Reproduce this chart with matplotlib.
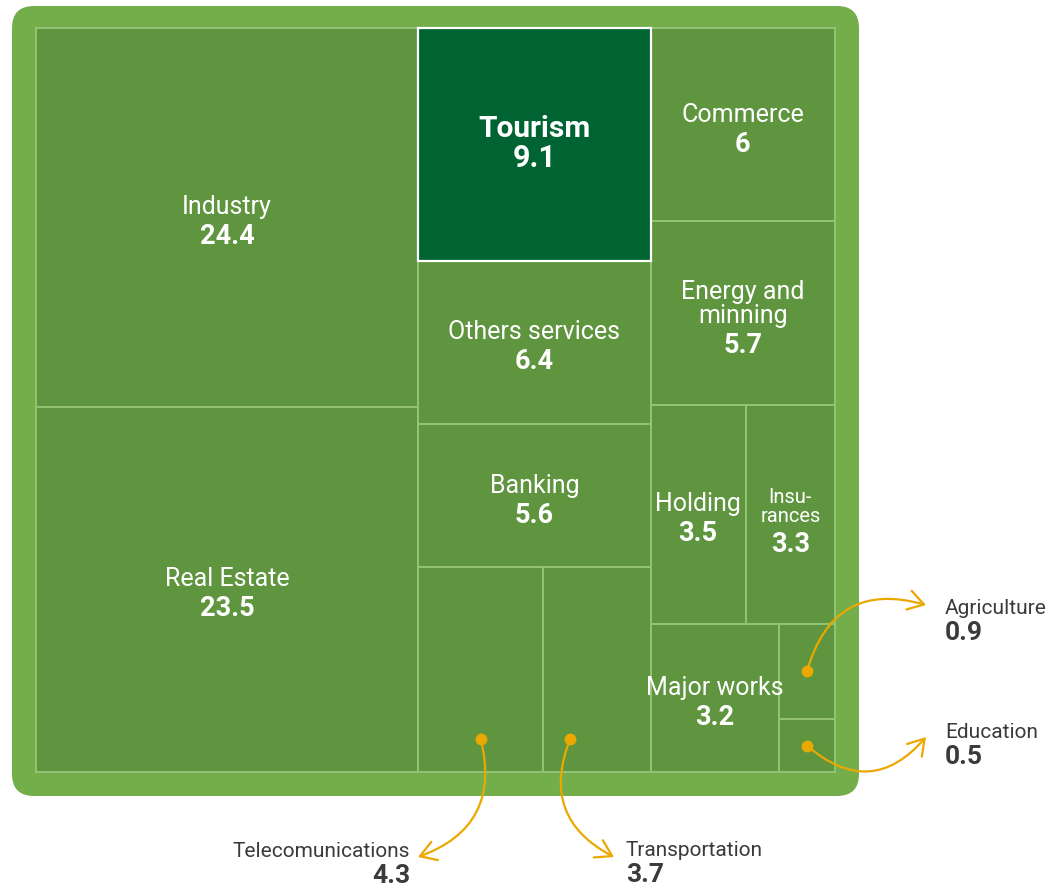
import matplotlib
matplotlib.use("Agg")
import matplotlib.pyplot as plt
from matplotlib.patches import Rectangle, FancyBboxPatch, FancyArrowPatch

# ---------------- data ----------------
sectors = ["Industry", "Real Estate", "Tourism", "Commerce", "Others services",
           "Energy and minning", "Banking", "Holding", "Insurances", "Major works",
           "Agriculture", "Education", "Telecomunications", "Transportation"]
values = [24.4, 23.5, 9.1, 6, 6.4, 5.7, 5.6, 3.5, 3.3, 3.2, 0.9, 0.5, 4.3, 3.7]
cell_labels = {"Energy and minning": "Energy and\nminning", "Insurances": "Insu-\nrances"}
highlight = "Tourism"
outside = ["Telecomunications", "Transportation", "Agriculture", "Education"]

# slice-and-dice hierarchy: ('h' = split left->right, 'v' = split top->bottom)
tree = ('h', [('v', ["Industry", "Real Estate"]),
              ('h', [('v', ["Tourism", "Others services", "Banking",
                            ('h', ["Telecomunications", "Transportation"])]),
                     ('v', ["Commerce", "Energy and minning",
                            ('h', ["Holding", "Insurances"]),
                            ('h', ["Major works", ('v', ["Agriculture", "Education"])])])])])

val = dict(zip(sectors, values))

def total(node):
    if isinstance(node, str):
        return val[node]
    return sum(total(c) for c in node[1])

def layout(node, x, y, w, h, out):
    if isinstance(node, str):
        out[node] = (x, y, w, h)
        return
    orient, children = node
    s = total(node)
    pos = 0.0
    for c in children:
        frac = total(c) / s
        if orient == 'h':
            layout(c, x + pos * w, y, w * frac, h, out)
        else:
            layout(c, x, y + pos * h, w, h * frac, out)
        pos += frac

# ---------------- style ----------------
BG = "#74ae4b"
CELL = "#5f953f"
HIGH = "#006432"
LINE = "#94c474"
ORANGE = "#eba800"
DARK = "#3b3b3d"
FONT = "Roboto"

fig = plt.figure(figsize=(10.53, 8.87), dpi=100)
ax = fig.add_axes([0, 0, 1, 1])
ax.set_xlim(0, 1053)
ax.set_ylim(887, 0)
ax.axis("off")

ax.add_patch(FancyBboxPatch((12, 7), 847, 790, boxstyle="round,pad=0,rounding_size=22",
                            facecolor=BG, edgecolor="none", zorder=0))

rects = {}
layout(tree, 36, 29, 799, 744, rects)

for name in sectors:
    if name == highlight:
        continue
    x, y, w, h = rects[name]
    ax.add_patch(Rectangle((x, y), w, h, facecolor=CELL, edgecolor=LINE, lw=1.4, zorder=1))
x, y, w, h = rects[highlight]
ax.add_patch(Rectangle((x, y), w, h, facecolor=HIGH, edgecolor="white", lw=1.6, zorder=2))

def fmt(v):
    return f"{v:g}"

for name in sectors:
    if name in outside:
        continue
    x, y, w, h = rects[name]
    cx, cy = x + w / 2, y + h / 2
    lab = cell_labels.get(name, name)
    nlines = lab.count("\n") + 1
    if name == highlight:
        ax.text(cx, cy - 8, lab, ha="center", va="baseline", color="white",
                fontsize=21.5, fontweight="bold", family=FONT, zorder=3)
        ax.text(cx, cy + 22, fmt(val[name]), ha="center", va="baseline", color="white",
                fontsize=22, fontweight="bold", family=FONT, zorder=3)
    else:
        small = name == "Insurances"
        fs = 14.5 if small else 18
        lh = 21 if small else 25
        last = cy - 4 + (nlines - 1) * lh / 2
        ax.text(cx, last, lab, ha="center", va="baseline", color="white",
                fontsize=fs, fontweight="normal", family=FONT, linespacing=1.0, zorder=3)
        ax.text(cx, last + 30, fmt(val[name]), ha="center",
                va="baseline", color="white", fontsize=19.5, fontweight="bold",
                family=FONT, zorder=3)

# outside labels with curved arrows
callouts = {
    "Telecomunications": dict(fx=0.5, fy=0.84, tip=(418, 858), lab=(410, 857), ha="right", rad=-0.45),
    "Transportation":    dict(fx=0.25, fy=0.84, tip=(614, 858), lab=(626, 856), ha="left", rad=0.45),
    "Agriculture":       dict(fx=0.5, fy=0.5, tip=(926, 606), lab=(945, 614), ha="left", rad=-0.5),
    "Education":         dict(fx=0.5, fy=0.5, tip=(926, 738), lab=(945, 738), ha="left", rad=0.5),
}
for name, c in callouts.items():
    x, y, w, h = rects[name]
    dx, dy = x + c["fx"] * w, y + c["fy"] * h
    ax.plot(dx, dy, "o", color=ORANGE, ms=7.5, zorder=5)
    arr = FancyArrowPatch((dx, dy), c["tip"], connectionstyle=f"arc3,rad={c['rad']}",
                          arrowstyle="->,head_length=0.8,head_width=0.5",
                          mutation_scale=14, color=ORANGE, lw=1.6, shrinkA=0, shrinkB=0,
                          zorder=5)
    ax.add_patch(arr)
    lx, ly = c["lab"]
    ax.text(lx, ly, name, ha=c["ha"], va="baseline", color=DARK, fontsize=15,
            family=FONT, zorder=5)
    ax.text(lx, ly + 26, fmt(val[name]), ha=c["ha"], va="baseline", color=DARK,
            fontsize=19, fontweight="bold", family=FONT, zorder=5)

fig.savefig("out.png", dpi=100, facecolor="white")
